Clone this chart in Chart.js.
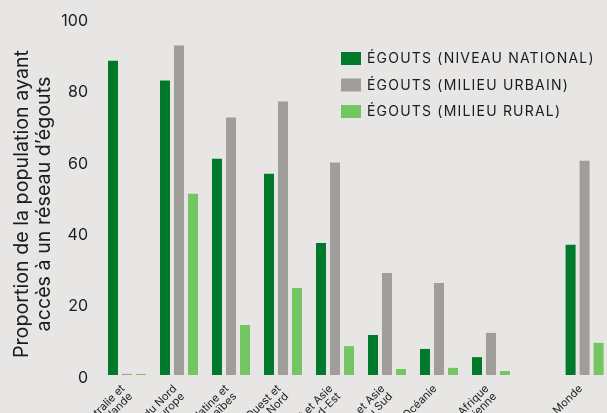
<!DOCTYPE html>
<html>
<head>
<meta charset="utf-8">
<script src="https://cdn.jsdelivr.net/npm/chart.js@4/dist/chart.umd.min.js"></script>
<style>
  html, body { margin: 0; padding: 0; background: #e8e6e4; overflow: hidden; }
  #wrap { width: 607px; height: 413px; position: relative; }
</style>
</head>
<body>
<div id="wrap"><canvas id="c"></canvas></div>
<script>
// ---- data ----
const categories = [
  ["Australie et", "Nouvelle-Zélande"],
  ["Amérique du Nord", "et Europe"],
  ["Amérique latine et", "Caraïbes"],
  ["Asie de l’Ouest et", "Afrique du Nord"],
  ["Asie de l’Est et Asie", "du Sud-Est"],
  ["Asie centrale et Asie", "du Sud"],
  ["Océanie"],
  ["Afrique", "subsaharienne"],
  ["Monde"]
];
const seriesNames = [
  "ÉGOUTS (NIVEAU NATIONAL)",
  "ÉGOUTS (MILIEU URBAIN)",
  "ÉGOUTS (MILIEU RURAL)"
];
const national = [88, 82.5, 60.6, 56.4, 37.0, 11.2, 7.3, 5.0, 36.5];
const urbain   = [0.3, 92.3, 72.1, 76.6, 59.5, 28.6, 25.8, 11.8, 60.0];
const rural    = [0.3, 50.8, 14.0, 24.4, 8.1, 1.7, 2.0, 1.1, 9.0];
const yTicks   = [0, 20, 40, 60, 80, 100];
const yTitle   = ["Proportion de la population ayant", "accès à un réseau d’égouts"];

// ---- layout ----
const WORLD_EXTRA_GAP = 0.8;           // extra space before the "Monde" group
const slot = i => (i < categories.length - 1 ? i : i + WORLD_EXTRA_GAP);
const colors = ["#00792b", "#9f9e9a", "#74c662"];
const textColor = "#1c1c1c";

const toPoints = arr => arr.map((v, i) => ({ x: slot(i), y: v }));

const legendPlugin = {
  id: "customLegend",
  afterDraw(chart) {
    const ctx = chart.ctx;
    ctx.save();
    ctx.font = "14px Inter";
    ctx.letterSpacing = "1.2px";
    ctx.textBaseline = "middle";
    ctx.textAlign = "left";
    chart.data.datasets.forEach((ds, i) => {
      const y = 58 + i * 26.5;
      ctx.fillStyle = ds.backgroundColor;
      ctx.fillRect(341, y - 6, 20, 13);
      ctx.fillStyle = textColor;
      ctx.fillText(ds.label, 367, y + 1);
    });
    ctx.restore();

    // rotated y-axis title
    ctx.save();
    ctx.font = "19.7px Inter";
    ctx.fillStyle = textColor;
    ctx.textAlign = "center";
    ctx.textBaseline = "alphabetic";
    ctx.translate(0, 204);
    ctx.rotate(-Math.PI / 2);
    ctx.fillText(yTitle[0], 0, 28);
    ctx.fillText(yTitle[1], 0, 50);
    ctx.restore();
  }
};

new Chart(document.getElementById("c"), {
  type: "bar",
  data: {
    datasets: [
      { label: seriesNames[0], data: toPoints(national), backgroundColor: colors[0] },
      { label: seriesNames[1], data: toPoints(urbain),   backgroundColor: colors[1] },
      { label: seriesNames[2], data: toPoints(rural),    backgroundColor: colors[2] }
    ]
  },
  options: {
    responsive: true,
    maintainAspectRatio: false,
    animation: false,
    categoryPercentage: 0.8077,
    barPercentage: 0.7143,
    layout: { padding: { top: 18, right: 0, left: 0, bottom: 0 } },
    plugins: { legend: { display: false }, tooltip: { enabled: false } },
    scales: {
      x: {
        type: "linear",
        min: -0.519,
        max: 9.231,
        offset: false,
        grid: { display: false },
        border: { display: false },
        afterBuildTicks: scale => {
          scale.ticks = categories.map((c, i) => ({ value: slot(i) }));
        },
        afterFit: scale => { scale.height = 38; },
        ticks: {
          autoSkip: false,
          minRotation: 45,
          maxRotation: 45,
          padding: 0,
          labelOffset: -4,
          color: textColor,
          font: { family: "Inter", size: 11, lineHeight: 1.0 },
          callback: (v, i) => categories[i]
        }
      },
      y: {
        min: 0,
        max: 100,
        grid: { display: false },
        border: { display: false },
        afterBuildTicks: scale => {
          scale.ticks = yTicks.map(v => ({ value: v }));
        },
        afterFit: scale => { scale.width = 100; },
        ticks: {
          padding: 4,
          labelOffset: 3,
          color: textColor,
          font: { family: "Inter", size: 16 }
        },
        title: { display: false }
      }
    }
  },
  plugins: [legendPlugin]
});
</script>
</body>
</html>
